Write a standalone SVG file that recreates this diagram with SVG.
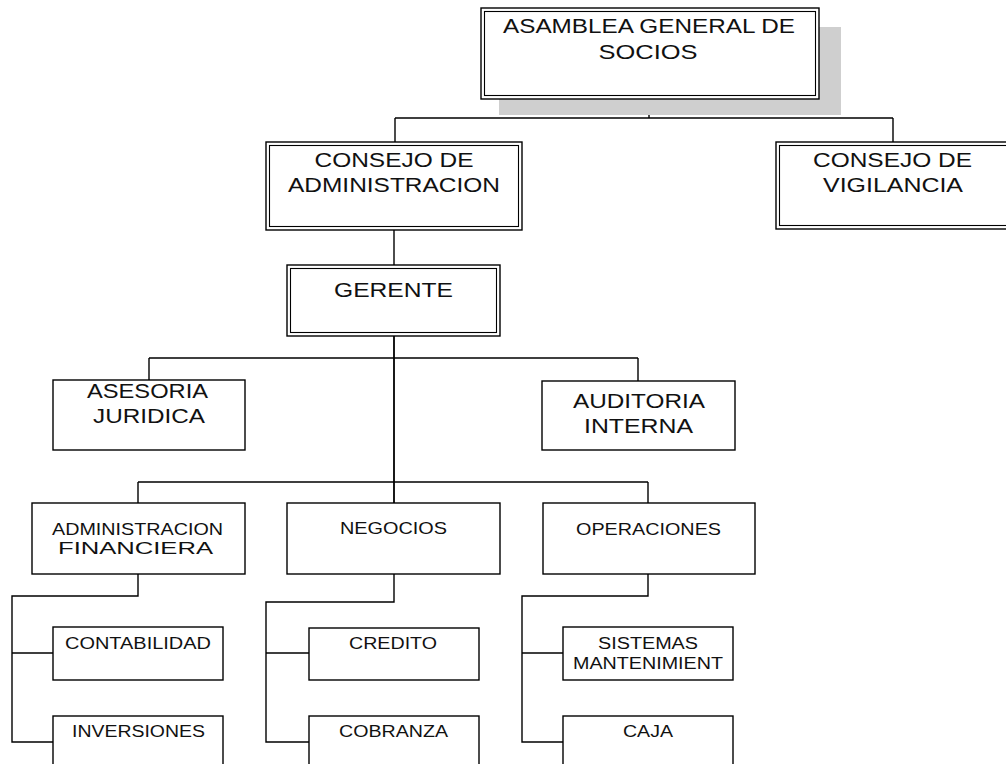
<svg xmlns="http://www.w3.org/2000/svg" width="1006" height="764" viewBox="0 0 1006 764">
  <style>
    .box { fill: #ffffff; stroke: #000000; stroke-width: 1.4; }
    .inner { fill: none; stroke: #000000; stroke-width: 1.1; }
    .shadow { fill: #cfcfcf; stroke: none; }
    .lbl { font-family: "Liberation Sans", Arial, sans-serif; fill: #111111; text-anchor: middle; }
    .l1 { font-size: 19.5px; }
    .l2 { font-size: 20px; }
    .l3 { font-size: 16.5px; }
    .l4 { font-size: 16px; }
    #connectors path { fill: none; stroke: #000000; stroke-width: 1.4; }
  </style>

  <!-- connectors -->
  <g id="connectors">
    <path d="M649 99 V118 M395 118 H893 M395 118 V142 M893 118 V142"/>
    <path d="M394 230 V265"/>
    <path d="M394 336 V503" style="stroke-width:1.8"/>
    <path d="M149 358 H638 M149 358 V380 M638 358 V381"/>
    <path d="M138 482 H648 M138 482 V503 M648 482 V503"/>
    <path d="M138 574 V596 H12 V742 H53 M12 653 H53"/>
    <path d="M394 574 V602 H266 V742 H309 M266 653 H309"/>
    <path d="M648 574 V596 H522 V742 H563 M522 653 H563"/>
  </g>

  <!-- top level -->
  <g id="asamblea">
    <rect class="shadow" x="499" y="27" width="342" height="88"/>
    <rect class="box" x="481" y="8" width="338" height="91"/>
    <rect class="inner" x="484.5" y="11.5" width="331" height="84"/>
    <text class="lbl l1" x="649" y="33" textLength="292" lengthAdjust="spacingAndGlyphs">ASAMBLEA GENERAL DE</text>
    <text class="lbl l1" x="648" y="59" textLength="99" lengthAdjust="spacingAndGlyphs">SOCIOS</text>
  </g>

  <g id="consejo-administracion">
    <rect class="box" x="266" y="142" width="256" height="88"/>
    <rect class="inner" x="269.5" y="145.5" width="249" height="81"/>
    <text class="lbl l1" x="394" y="167" textLength="159" lengthAdjust="spacingAndGlyphs">CONSEJO DE</text>
    <text class="lbl l1" x="394" y="192" textLength="212" lengthAdjust="spacingAndGlyphs">ADMINISTRACION</text>
  </g>

  <g id="consejo-vigilancia">
    <rect class="box" x="776" y="142" width="236" height="87"/>
    <rect class="inner" x="779.5" y="145.5" width="229" height="80"/>
    <text class="lbl l1" x="892.5" y="167" textLength="159" lengthAdjust="spacingAndGlyphs">CONSEJO DE</text>
    <text class="lbl l1" x="893" y="192" textLength="140" lengthAdjust="spacingAndGlyphs">VIGILANCIA</text>
  </g>

  <g id="gerente">
    <rect class="box" x="287" y="265" width="213" height="71"/>
    <rect class="inner" x="290.5" y="268.5" width="206" height="64"/>
    <text class="lbl l2" x="393.5" y="297" textLength="119" lengthAdjust="spacingAndGlyphs">GERENTE</text>
  </g>

  <!-- staff units -->
  <g id="asesoria-juridica">
    <rect class="box" x="53" y="380" width="192" height="70"/>
    <text class="lbl l2" x="147.5" y="398" textLength="121" lengthAdjust="spacingAndGlyphs">ASESORIA</text>
    <text class="lbl l2" x="149" y="423" textLength="112" lengthAdjust="spacingAndGlyphs">JURIDICA</text>
  </g>

  <g id="auditoria-interna">
    <rect class="box" x="542" y="381" width="193" height="69"/>
    <text class="lbl l2" x="639" y="408" textLength="132" lengthAdjust="spacingAndGlyphs">AUDITORIA</text>
    <text class="lbl l2" x="638.5" y="433" textLength="109" lengthAdjust="spacingAndGlyphs">INTERNA</text>
  </g>

  <!-- departments -->
  <g id="administracion-financiera">
    <rect class="box" x="32" y="503" width="213" height="71"/>
    <text class="lbl l3" x="137.5" y="535" textLength="171" lengthAdjust="spacingAndGlyphs">ADMINISTRACION</text>
    <text class="lbl l3" x="135.5" y="554" textLength="155" lengthAdjust="spacingAndGlyphs">FINANCIERA</text>
  </g>

  <g id="negocios">
    <rect class="box" x="287" y="503" width="213" height="71"/>
    <text class="lbl l3" x="393.5" y="534" textLength="107" lengthAdjust="spacingAndGlyphs">NEGOCIOS</text>
  </g>

  <g id="operaciones">
    <rect class="box" x="543" y="503" width="212" height="71"/>
    <text class="lbl l3" x="648.5" y="535" textLength="145" lengthAdjust="spacingAndGlyphs">OPERACIONES</text>
  </g>

  <!-- sections -->
  <g id="contabilidad">
    <rect class="box" x="53" y="627" width="170" height="53"/>
    <text class="lbl l4" x="138" y="649" textLength="146" lengthAdjust="spacingAndGlyphs">CONTABILIDAD</text>
  </g>

  <g id="inversiones">
    <rect class="box" x="53" y="716" width="170" height="70"/>
    <text class="lbl l4" x="138.5" y="737" textLength="133" lengthAdjust="spacingAndGlyphs">INVERSIONES</text>
  </g>

  <g id="credito">
    <rect class="box" x="309" y="628" width="170" height="52"/>
    <text class="lbl l4" x="393" y="649" textLength="88" lengthAdjust="spacingAndGlyphs">CREDITO</text>
  </g>

  <g id="cobranza">
    <rect class="box" x="309" y="716" width="170" height="70"/>
    <text class="lbl l4" x="393.5" y="737" textLength="109" lengthAdjust="spacingAndGlyphs">COBRANZA</text>
  </g>

  <g id="sistemas">
    <rect class="box" x="563" y="627" width="170" height="53"/>
    <text class="lbl l4" x="648" y="649" textLength="100" lengthAdjust="spacingAndGlyphs">SISTEMAS</text>
    <text class="lbl l4" x="648" y="669" textLength="150" lengthAdjust="spacingAndGlyphs">MANTENIMIENT</text>
  </g>

  <g id="caja">
    <rect class="box" x="563" y="716" width="170" height="70"/>
    <text class="lbl l4" x="648" y="737" textLength="50" lengthAdjust="spacingAndGlyphs">CAJA</text>
  </g>
</svg>
